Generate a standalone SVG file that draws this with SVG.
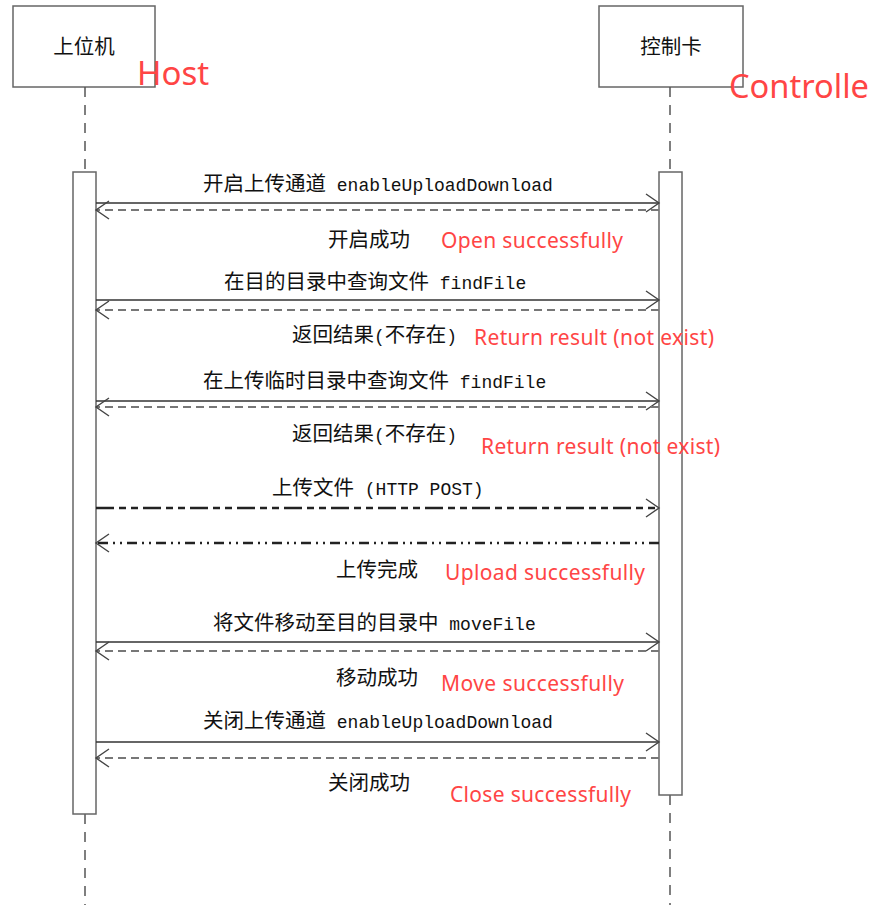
<svg xmlns="http://www.w3.org/2000/svg" width="874" height="905" viewBox="0 0 874 905">
<defs>
<style>
.box{fill:#fff;stroke:#666;stroke-width:1.5}
.life{stroke:#555;stroke-width:1.5;stroke-dasharray:10 8;fill:none}
.act{fill:#fff;stroke:#666;stroke-width:1.5}
.msg{stroke:#333;stroke-width:1.4;fill:none}
.ret{stroke:#777;stroke-width:1.8;stroke-dasharray:8 5;fill:none}
.post{stroke:#222;stroke-width:2.6;stroke-dasharray:18 5 7 5 7 5;fill:none}
.done{stroke:#222;stroke-width:2.6;stroke-dasharray:10 5 2 5 2 5;fill:none}
.lbl{font-family:"Noto Sans CJK SC",sans-serif;font-size:20.5px;fill:#111}
.mono{font-family:"Liberation Mono",monospace;font-size:18px}
.red{font-family:"Noto Sans","Liberation Sans",sans-serif;font-size:21px;fill:#ff4545}
.big{font-family:"Noto Sans","Liberation Sans",sans-serif;fill:#ff4545}
</style>
<marker id="ah" viewBox="-15 -11 17 22" refX="0" refY="0" markerWidth="17" markerHeight="22" markerUnits="userSpaceOnUse" orient="auto">
<path d="M-13,-9 L0,0 L-13,9" fill="none" stroke="#444" stroke-width="1.4" stroke-dasharray="none"/>
</marker>
</defs>
<rect width="874" height="905" fill="#fff"/>

<g id="host">
<rect class="box" x="13" y="6" width="142" height="81"/>
<text class="lbl" x="84" y="54" text-anchor="middle">上位机</text>
<text class="big" x="137" y="85" font-size="33">Host</text>
<line class="life" x1="85" y1="87" x2="85" y2="172"/>
<line class="life" x1="85" y1="814" x2="85" y2="905"/>
<rect class="act" x="73" y="172" width="23" height="642"/>
</g>

<g id="controller">
<rect class="box" x="599" y="6" width="144" height="81"/>
<text class="lbl" x="671" y="54" text-anchor="middle">控制卡</text>
<text class="big" x="729" y="98" font-size="33" textLength="140" lengthAdjust="spacingAndGlyphs">Controlle</text>
<line class="life" x1="670" y1="87" x2="670" y2="172"/>
<line class="life" x1="670" y1="795" x2="670" y2="905"/>
<rect class="act" x="659" y="172" width="23" height="623"/>
</g>

<g id="connectors">
<line class="msg" x1="96" y1="203" x2="659" y2="203" marker-end="url(#ah)"/>
<line class="ret" x1="659" y1="210" x2="96" y2="210" marker-end="url(#ah)"/>
<line class="msg" x1="96" y1="300" x2="659" y2="300" marker-end="url(#ah)"/>
<line class="ret" x1="659" y1="310" x2="96" y2="310" marker-end="url(#ah)"/>
<line class="msg" x1="96" y1="401" x2="659" y2="401" marker-end="url(#ah)"/>
<line class="ret" x1="659" y1="407" x2="96" y2="407" marker-end="url(#ah)"/>
<line class="post" x1="96" y1="508" x2="659" y2="508" marker-end="url(#ah)"/>
<line class="done" x1="659" y1="543" x2="96" y2="543" marker-end="url(#ah)"/>
<line class="msg" x1="96" y1="642" x2="659" y2="642" marker-end="url(#ah)"/>
<line class="ret" x1="659" y1="651" x2="96" y2="651" marker-end="url(#ah)"/>
<line class="msg" x1="96" y1="742" x2="659" y2="742" marker-end="url(#ah)"/>
<line class="ret" x1="659" y1="758" x2="96" y2="758" marker-end="url(#ah)"/>
</g>

<g id="labels">
<text class="lbl" x="203" y="191">开启上传通道<tspan class="mono"> enableUploadDownload</tspan></text>
<text class="lbl" x="328" y="247">开启成功</text>
<text class="red" x="441" y="248" textLength="182">Open successfully</text>

<text class="lbl" x="224" y="289">在目的目录中查询文件<tspan class="mono"> findFile</tspan></text>
<text class="lbl" x="292" y="342">返回结果<tspan class="mono">(</tspan>不存在<tspan class="mono">)</tspan></text>
<text class="red" x="474" y="345" textLength="240">Return result (not exist)</text>

<text class="lbl" x="203" y="388">在上传临时目录中查询文件<tspan class="mono"> findFile</tspan></text>
<text class="lbl" x="292" y="441">返回结果<tspan class="mono">(</tspan>不存在<tspan class="mono">)</tspan></text>
<text class="red" x="481" y="454" textLength="239">Return result (not exist)</text>

<text class="lbl" x="272" y="495">上传文件<tspan class="mono"> (HTTP POST)</tspan></text>
<text class="lbl" x="336" y="577">上传完成</text>
<text class="red" x="445" y="580" textLength="200">Upload successfully</text>

<text class="lbl" x="213" y="630">将文件移动至目的目录中<tspan class="mono"> moveFile</tspan></text>
<text class="lbl" x="336" y="685">移动成功</text>
<text class="red" x="441" y="691" textLength="183">Move successfully</text>

<text class="lbl" x="203" y="728">关闭上传通道<tspan class="mono"> enableUploadDownload</tspan></text>
<text class="lbl" x="328" y="790">关闭成功</text>
<text class="red" x="450" y="802" textLength="181">Close successfully</text>
</g>
</svg>
